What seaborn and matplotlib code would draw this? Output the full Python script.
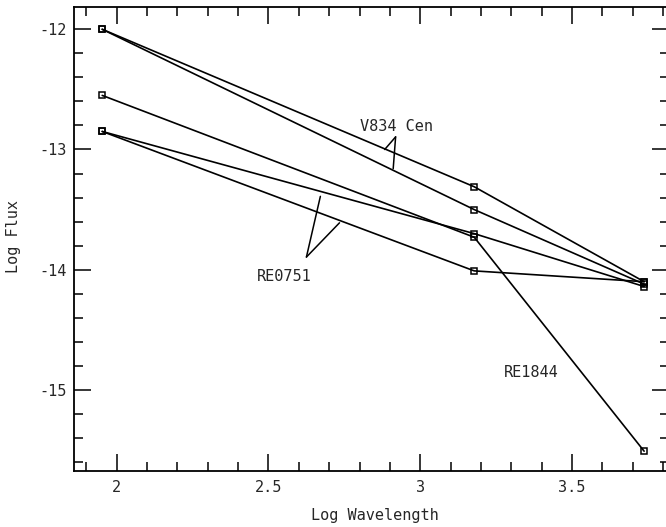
import matplotlib
matplotlib.use("Agg")
import matplotlib.pyplot as plt
import seaborn as sns
import pandas as pd
from matplotlib.ticker import MultipleLocator, FixedLocator

# ---- data ----
log_wavelength = [1.952, 3.178, 3.738]
v834_cen_a = [-12.00, -13.31, -14.10]
v834_cen_b = [-12.00, -13.50, -14.12]
re0751_a = [-12.85, -13.70, -14.14]
re0751_b = [-12.85, -14.01, -14.10]
re1844 = [-12.55, -13.73, -15.51]

series = {
    "V834 Cen a": v834_cen_a,
    "V834 Cen b": v834_cen_b,
    "RE0751 a": re0751_a,
    "RE0751 b": re0751_b,
    "RE1844": re1844,
}

x_ticks = [2, 2.5, 3, 3.5]
x_tick_labels = ["2", "2.5", "3", "3.5"]
y_ticks = [-12, -13, -14, -15]
y_tick_labels = ["-12", "-13", "-14", "-15"]

rows = []
for name, vals in series.items():
    for xv, yv in zip(log_wavelength, vals):
        rows.append({"line": name, "logw": xv, "logf": yv})
df = pd.DataFrame(rows)

sns.set_style("ticks")
plt.rcParams["font.family"] = ["DejaVu Sans Mono", "DejaVu Sans"]
plt.rcParams["axes.unicode_minus"] = False

fig = plt.figure(figsize=(6.66, 5.27), dpi=100)
ax = fig.add_axes([74 / 666, (527 - 470.7) / 527, 595 / 666, 463.4 / 527])

sns.lineplot(
    data=df, x="logw", y="logf", units="line", estimator=None, sort=False,
    color="black", linewidth=1.2, marker="s", markersize=5,
    markerfacecolor="none", markeredgecolor="black", markeredgewidth=1.1,
    ax=ax, legend=False,
)

ax.set_xlim(1.859, 3.82)
ax.set_ylim(-15.6725, -11.817)

ax.xaxis.set_major_locator(FixedLocator(x_ticks))
ax.set_xticklabels(x_tick_labels)
ax.xaxis.set_minor_locator(MultipleLocator(0.1))
ax.yaxis.set_major_locator(FixedLocator(y_ticks))
ax.set_yticklabels(y_tick_labels)
ax.yaxis.set_minor_locator(MultipleLocator(0.2))

ax.tick_params(which="both", direction="in", top=True, right=True,
               width=1.1, color="black", labelsize=11)
ax.tick_params(which="major", length=12)
ax.tick_params(which="minor", length=6.5)
ax.tick_params(axis="x", which="major", pad=7)
ax.tick_params(axis="y", which="major", pad=5)

for sp in ax.spines.values():
    sp.set_linewidth(1.3)
    sp.set_color("black")

ax.set_xlabel("Log Wavelength", fontsize=11, va="center")
ax.xaxis.set_label_coords(0.506, -0.097)
ax.set_ylabel("Log Flux", fontsize=11, va="center")
ax.yaxis.set_label_coords(-0.1017, 0.506)

# annotations
lw_ann = 1.1
ax.text(2.922, -12.81, "V834 Cen", fontsize=11, ha="center", va="center")
for tip in [(2.883, -13.0), (2.911, -13.16)]:
    ax.annotate("", xy=tip, xytext=(2.919, -12.895),
                arrowprops=dict(arrowstyle="-", lw=lw_ann, color="black",
                                shrinkA=0, shrinkB=0))

ax.text(2.553, -14.06, "RE0751", fontsize=11, ha="center", va="center")
for tip in [(2.671, -13.39), (2.734, -13.61)]:
    ax.annotate("", xy=tip, xytext=(2.625, -13.895),
                arrowprops=dict(arrowstyle="-", lw=lw_ann, color="black",
                                shrinkA=0, shrinkB=0))

ax.text(3.366, -14.856, "RE1844", fontsize=11, ha="center", va="center")

fig.savefig("out.png", dpi=100)
